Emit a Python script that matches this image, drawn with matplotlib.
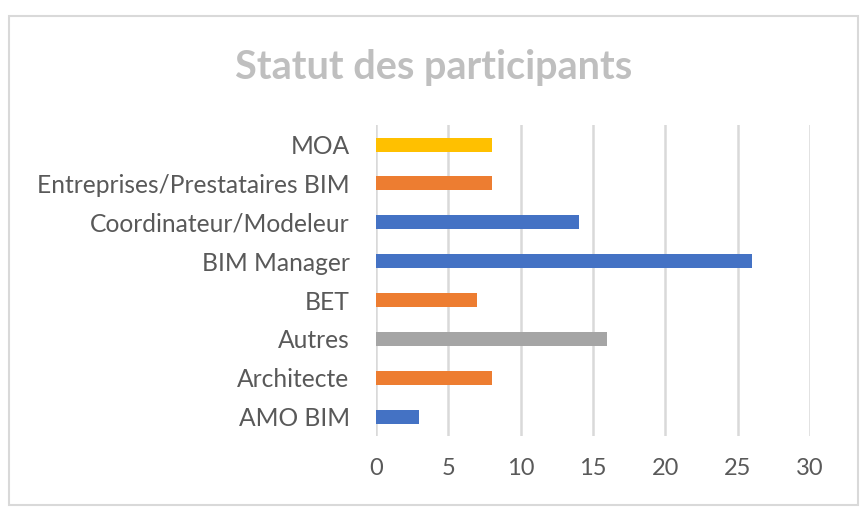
import matplotlib.pyplot as plt
from matplotlib.patches import Rectangle

# data (bottom to top)
categories = ["AMO BIM", "Architecte", "Autres", "BET", "BIM Manager",
              "Coordinateur/Modeleur", "Entreprises/Prestataires BIM", "MOA"]
values = [3, 8, 16, 7, 26, 14, 8, 8]
colors = ["#4472C4", "#ED7D31", "#A5A5A5", "#ED7D31", "#4472C4",
          "#4472C4", "#ED7D31", "#FFC000"]
xticks = [0, 5, 10, 15, 20, 25, 30]

plt.rcParams['font.family'] = ['Lato', 'DejaVu Sans']

fig = plt.figure(figsize=(8.67, 5.15), dpi=100)
fig.patches.append(Rectangle((0.0104, 0.0194), 0.979, 0.9495, transform=fig.transFigure,
                             fill=False, edgecolor="#d9d9d9", linewidth=1.5))

ax = fig.add_axes([0.4337, 0.1534, 0.5006, 0.6036])
ax.barh(range(len(categories)), values, height=0.36, color=colors, zorder=3)
ax.set_xlim(0, 30)
ax.set_ylim(-0.5, len(categories) - 0.5)
ax.set_xticks(xticks)
ax.set_yticks(range(len(categories)))
ax.set_yticklabels(categories)
ax.grid(axis="x", color="#d9d9d9", linewidth=1.8, zorder=0)
ax.set_axisbelow(True)
for s in ax.spines.values():
    s.set_visible(False)
ax.tick_params(length=0, colors="#595959", labelsize=17.7)
ax.tick_params(axis="x", pad=16, labelsize=17)
ax.tick_params(axis="y", pad=19)

fig.text(0.5, 0.868, "Statut des participants", ha="center", va="center",
         fontsize=28.5, fontweight="bold", color="#BFBFBF")

plt.savefig("out.png", dpi=100)
